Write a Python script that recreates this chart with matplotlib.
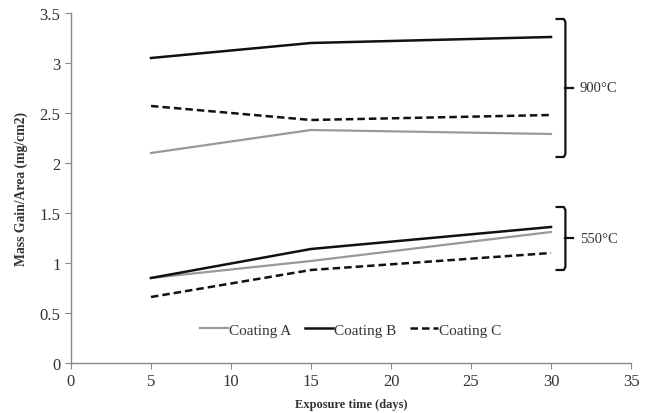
import matplotlib.pyplot as plt

plt.rcParams['font.family'] = ['Liberation Serif', 'DejaVu Serif']

# exposure times and mass gain per area (mg/cm2)
days = [5, 15, 30]

a_900 = [2.10, 2.33, 2.29]
b_900 = [3.05, 3.20, 3.26]
c_900 = [2.57, 2.43, 2.48]

a_550 = [0.85, 1.02, 1.31]
b_550 = [0.85, 1.14, 1.36]
c_550 = [0.66, 0.93, 1.10]

temps = ['900°C', '550°C']
brace_ranges = [(2.06, 3.44), (0.93, 1.56)]

grey = '#999999'
txt = '#333333'

fig = plt.figure(figsize=(6.47, 4.14), dpi=100)
ax = fig.add_axes([0.1097, 0.1208, 0.8656, 0.8454])

ax.plot(days, a_900, color=grey, lw=1.6, label='Coating A')
ax.plot(days, b_900, color='#111111', lw=1.8, label='Coating B')
ax.plot(days, c_900, color='#111111', lw=1.8, ls=(0, (3, 1.6)), label='Coating C')
ax.plot(days, a_550, color=grey, lw=1.6)
ax.plot(days, b_550, color='#111111', lw=1.8)
ax.plot(days, c_550, color='#111111', lw=1.8, ls=(0, (3, 1.6)))

# curly braces marking the two temperature groups
for label, (lo, hi) in zip(temps, brace_ranges):
    xb = 30.9
    mid = (lo + hi) / 2
    ax.plot([30.35, xb - 0.1, xb, xb, xb - 0.1, 30.35],
            [hi, hi, hi - 0.03, lo + 0.03, lo, lo],
            color='#111111', lw=1.6, solid_joinstyle='round')
    ax.plot([xb, 31.35], [mid, mid], color='#111111', lw=1.6)
    ax.text(31.8, mid, label, ha='left', va='center', fontsize=10.5, color=txt)

ax.set_xlim(0, 35)
ax.set_ylim(0, 3.5)
ax.set_xticks(range(0, 36, 5))
ax.set_yticks([0, 0.5, 1, 1.5, 2, 2.5, 3, 3.5])
ax.set_yticklabels(['0', '0.5', '1', '1.5', '2', '2.5', '3', '3.5'])

for s in ['top', 'right']:
    ax.spines[s].set_visible(False)
for s in ['left', 'bottom']:
    ax.spines[s].set_color('#888888')
    ax.spines[s].set_linewidth(1.0)
ax.tick_params(direction='out', length=4, color='#888888', labelsize=12, labelcolor=txt)

ax.set_xlabel('Exposure time (days)', fontsize=9, fontweight='bold', color=txt, labelpad=6)
ax.set_ylabel('Mass Gain/Area (mg/cm2)', fontsize=9.8, fontweight='bold', color=txt, labelpad=8)

ax.legend(loc='center', bbox_to_anchor=(0.5, 0.095), ncol=3, frameon=False,
          fontsize=11, handlelength=1.8, handletextpad=0.1, columnspacing=0.9,
          labelcolor=txt)

fig.savefig('out.png', dpi=100)
